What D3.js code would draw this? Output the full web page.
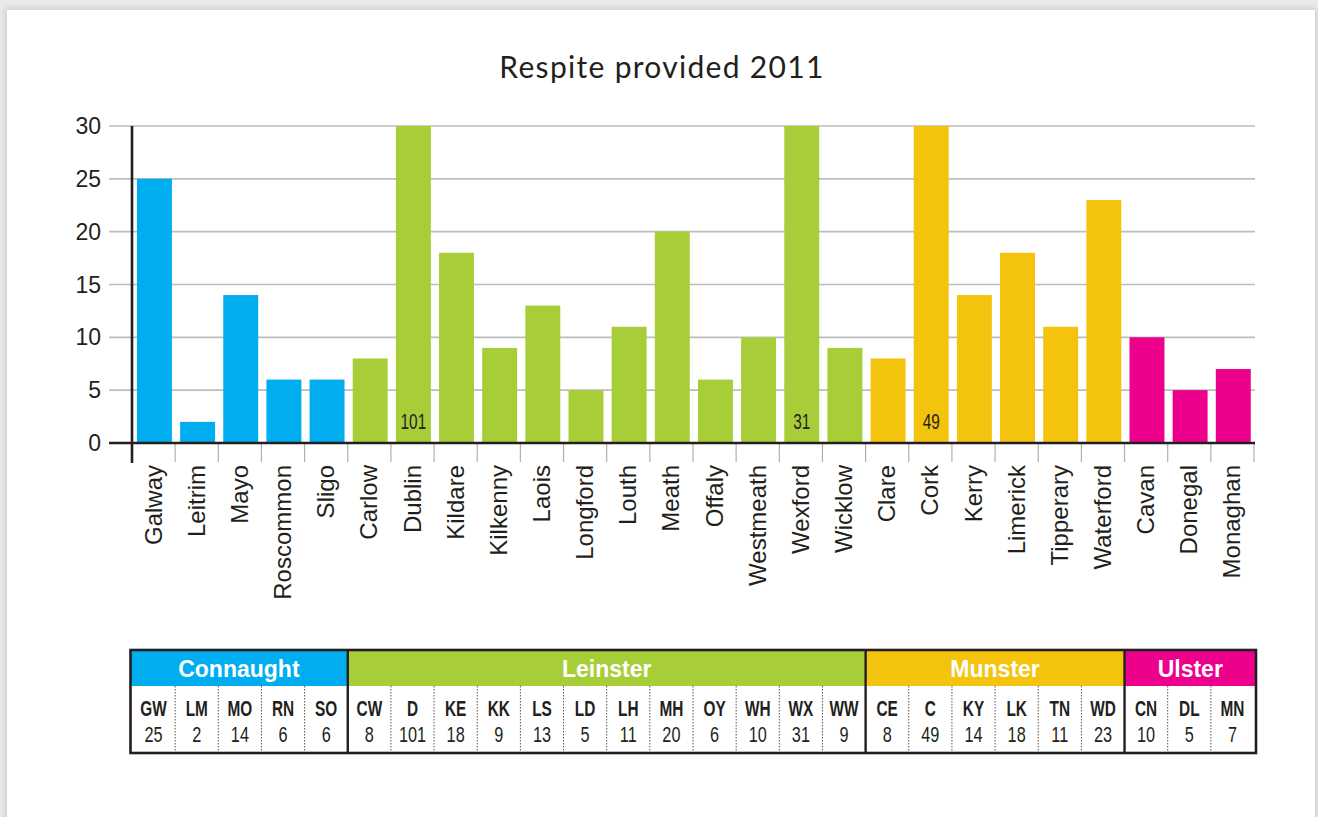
<!DOCTYPE html>
<html>
<head>
<meta charset="utf-8">
<script src="https://cdn.jsdelivr.net/npm/d3@7/dist/d3.min.js"></script>
<style>
  html, body { margin: 0; padding: 0; background: #e9eaec; width: 1318px; height: 817px; overflow: hidden; }
  #card { position: absolute; left: 7px; top: 10px; width: 1308px; height: 830px; background: #fff;
          box-shadow: 0 0 6px 2px rgba(0,0,0,0.12); }
  svg { position: absolute; left: 0; top: 0; }
</style>
</head>
<body>
<div id="card"></div>
<svg id="chart" width="1318" height="817"></svg>
<script>
// Respite provided per county, 2011
const counties = ["Galway","Leitrim","Mayo","Roscommon","Sligo",
  "Carlow","Dublin","Kildare","Kilkenny","Laois","Longford","Louth","Meath","Offaly","Westmeath","Wexford","Wicklow",
  "Clare","Cork","Kerry","Limerick","Tipperary","Waterford",
  "Cavan","Donegal","Monaghan"];
const codes = ["GW","LM","MO","RN","SO",
  "CW","D","KE","KK","LS","LD","LH","MH","OY","WH","WX","WW",
  "CE","C","KY","LK","TN","WD",
  "CN","DL","MN"];
const values = [25,2,14,6,6,
  8,101,18,9,13,5,11,20,6,10,31,9,
  8,49,14,18,11,23,
  10,5,7];
const provinceOf = ["Connaught","Connaught","Connaught","Connaught","Connaught",
  "Leinster","Leinster","Leinster","Leinster","Leinster","Leinster","Leinster","Leinster","Leinster","Leinster","Leinster","Leinster",
  "Munster","Munster","Munster","Munster","Munster","Munster",
  "Ulster","Ulster","Ulster"];
const provinces = ["Connaught","Leinster","Munster","Ulster"];
const provinceColors = ["#00aeef","#a7ce39","#f4c30d","#ec008c"];
const yTicks = [0,5,10,15,20,25,30];
const yMax = 30;

const svg = d3.select("#chart");
const color = d3.scaleOrdinal().domain(provinces).range(provinceColors);

const x = d3.scaleBand().domain(counties).range([132, 1254]).padding(0);
const y = d3.scaleLinear().domain([0, yMax]).range([443, 126]);
const bw = x.bandwidth();

const SANS = "'Liberation Sans', Arial, Helvetica, sans-serif";

// condensed text helper: horizontally squeezed Liberation Sans
function condensed(sel, cx, cy, squeeze) {
  return sel.attr("transform", (d, i) => `translate(${cx(d, i)},${cy(d, i)}) scale(${squeeze},1)`)
    .attr("x", 0).attr("y", 0)
    .attr("text-anchor", "middle")
    .style("font-family", SANS);
}

// title
svg.append("text")
  .attr("x", 662).attr("y", 78)
  .attr("text-anchor", "middle")
  .style("font-family", "Lato, 'Open Sans', sans-serif")
  .style("font-size", "30px")
  .style("letter-spacing", "1.3px")
  .style("fill", "#231f20")
  .text("Respite provided 2011");

// gridlines + y tick labels
const grid = svg.append("g");
grid.selectAll("line").data(yTicks.filter(t => t > 0)).join("line")
  .attr("x1", 109).attr("x2", 1255)
  .attr("y1", d => y(d)).attr("y2", d => y(d))
  .attr("stroke", "#bdbdbd").attr("stroke-width", 1.6);
grid.selectAll("text").data(yTicks).join("text")
  .attr("x", 101).attr("y", d => y(d) + 8)
  .attr("text-anchor", "end")
  .style("font-family", SANS)
  .style("font-size", "23px")
  .style("fill", "#231f20")
  .text(d => d);

// bars (values above the axis maximum are cut at the top)
const rows = counties.map((c, i) => ({ c, code: codes[i], v: values[i], p: provinceOf[i] }));
svg.append("g").selectAll("rect").data(rows).join("rect")
  .attr("x", d => x(d.c) + bw * 0.115)
  .attr("width", bw * 0.81)
  .attr("y", d => y(Math.min(d.v, yMax)))
  .attr("height", d => y(0) - y(Math.min(d.v, yMax)))
  .attr("fill", d => color(d.p));

// value labels for truncated bars
condensed(svg.append("g").selectAll("text").data(rows.filter(d => d.v > yMax)).join("text"),
    d => x(d.c) + bw * 0.52, () => 429, 0.7)
  .style("font-size", "22px")
  .style("fill", "#231f20")
  .text(d => d.v);

// category ticks
svg.append("g").selectAll("line").data(counties).join("line")
  .attr("x1", d => x(d) + bw)
  .attr("x2", d => x(d) + bw)
  .attr("y1", 443).attr("y2", 462)
  .attr("stroke", "#b0b0b0").attr("stroke-width", 1.2);

// axes lines
svg.append("line").attr("x1", 109).attr("x2", 1255).attr("y1", y(0)).attr("y2", y(0))
  .attr("stroke", "#231f20").attr("stroke-width", 2.6);
svg.append("line").attr("x1", 132).attr("x2", 132).attr("y1", y(yMax)).attr("y2", 463)
  .attr("stroke", "#231f20").attr("stroke-width", 2.6);

// rotated county labels
svg.append("g").selectAll("text").data(counties).join("text")
  .attr("transform", d => `translate(${x(d) + bw / 2 + 8},465) rotate(-90)`)
  .attr("text-anchor", "end")
  .style("font-family", SANS)
  .style("font-size", "24px")
  .style("fill", "#231f20")
  .text(d => d);

// summary table
const tTop = 650, tHead = 686, tBot = 753;
const table = svg.append("g");
const groups = provinces.map(p => {
  const idx = rows.map((r, i) => r.p === p ? i : -1).filter(i => i >= 0);
  return { p, x0: x(counties[idx[0]]), x1: x(counties[idx[idx.length - 1]]) + bw, idx };
});
groups.forEach((g, gi) => {
  const left = gi === 0 ? g.x0 - 2 : g.x0;
  const right = gi === groups.length - 1 ? g.x1 + 2 : g.x1;
  table.append("rect").attr("x", left).attr("y", tTop).attr("width", right - left).attr("height", tHead - tTop)
    .attr("fill", color(g.p));
  table.append("text")
    .attr("x", (left + right) / 2).attr("y", tTop + 27)
    .attr("text-anchor", "middle")
    .style("font-family", SANS)
    .style("font-weight", "bold")
    .style("font-size", "23px")
    .style("fill", "#fff")
    .text(g.p);
  // dotted separators inside a province
  g.idx.slice(1).forEach(i => {
    table.append("line").attr("x1", x(counties[i])).attr("x2", x(counties[i]))
      .attr("y1", tHead).attr("y2", tBot)
      .attr("stroke", "#555").attr("stroke-width", 1).attr("stroke-dasharray", "1.5,1.5");
  });
});
condensed(table.selectAll("text.code").data(rows).join("text").attr("class", "code"),
    d => x(d.c) + bw / 2, () => 716, 0.7)
  .style("font-weight", "bold")
  .style("font-size", "22px")
  .style("fill", "#231f20")
  .text(d => d.code);
condensed(table.selectAll("text.val").data(rows).join("text").attr("class", "val"),
    d => x(d.c) + bw / 2, () => 742, 0.74)
  .style("font-size", "22px")
  .style("fill", "#231f20")
  .text(d => d.v);
// province separators and outer frame
groups.slice(1).forEach(g => {
  table.append("line").attr("x1", g.x0).attr("x2", g.x0).attr("y1", tTop).attr("y2", tBot)
    .attr("stroke", "#231f20").attr("stroke-width", 2.4);
});
table.append("rect")
  .attr("x", x.range()[0] - 1.5).attr("y", tTop)
  .attr("width", x.range()[1] - x.range()[0] + 3.5).attr("height", tBot - tTop)
  .attr("fill", "none").attr("stroke", "#231f20").attr("stroke-width", 2.6);
</script>
</body>
</html>
